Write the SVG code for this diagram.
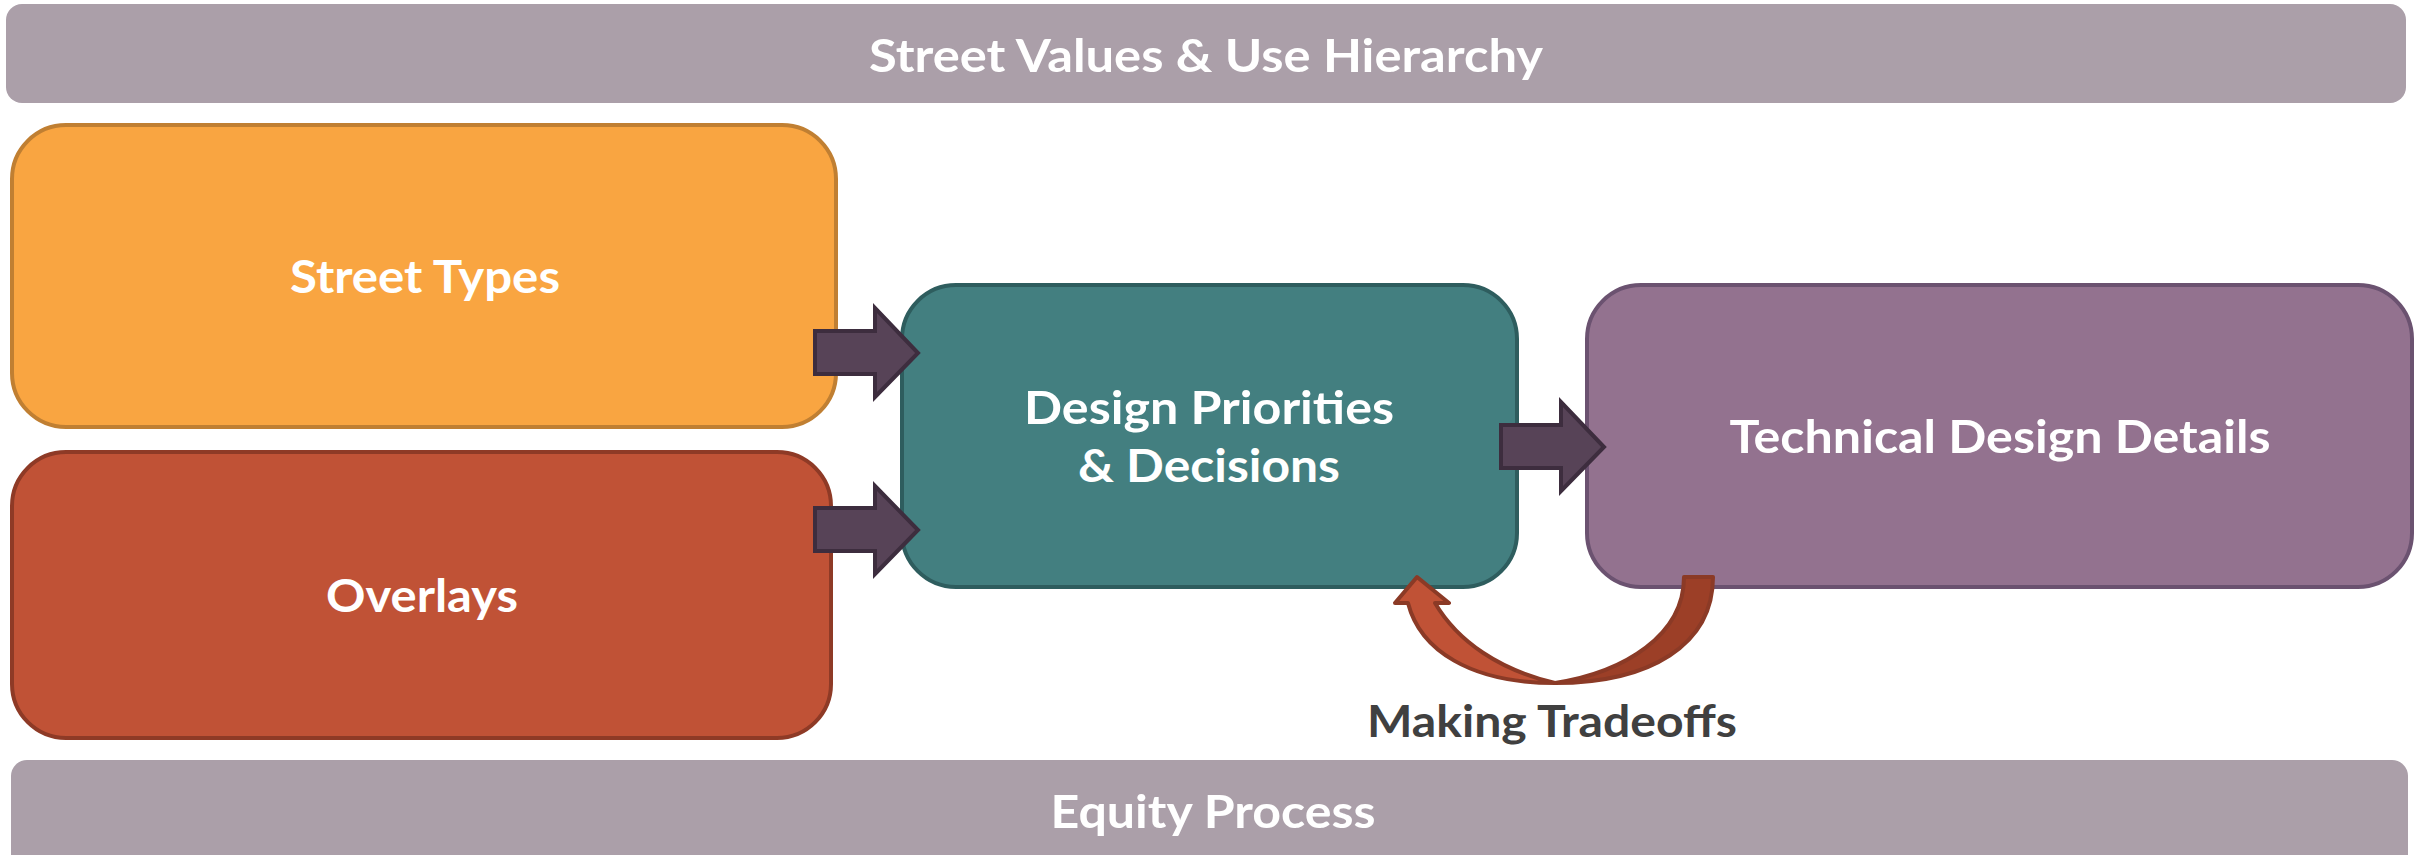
<svg xmlns="http://www.w3.org/2000/svg" width="2425" height="855" viewBox="0 0 2425 855">
<style>
.lbl{font-family:Lato,"Open Sans","Liberation Sans",sans-serif;font-weight:bold;fill:#ffffff;text-anchor:middle}
.bar{fill:#ab9fa9}
.box{stroke-width:4}
.blk{fill:#574357;stroke:#3d2d3e;stroke-width:4;stroke-linejoin:miter}
</style>
<rect width="2425" height="855" fill="#ffffff"/>
<g id="top-bar">
<rect class="bar" x="6" y="4" width="2400" height="99" rx="16"/>
<text class="lbl" x="1206" y="72" font-size="46" textLength="674" lengthAdjust="spacingAndGlyphs">Street Values &amp; Use Hierarchy</text>
</g>
<g id="street-types">
<rect class="box" x="12" y="125" width="824" height="302" rx="54" fill="#f9a541" stroke="#c07f32"/>
<text class="lbl" x="425" y="293" font-size="46" textLength="270" lengthAdjust="spacingAndGlyphs">Street Types</text>
</g>
<g id="overlays">
<rect class="box" x="12" y="452" width="819" height="286" rx="54" fill="#c05236" stroke="#8e3a26"/>
<text class="lbl" x="422" y="612" font-size="46" textLength="192" lengthAdjust="spacingAndGlyphs">Overlays</text>
</g>
<g id="design-priorities">
<rect class="box" x="902" y="285" width="615" height="302" rx="54" fill="#437f80" stroke="#2e5d5e"/>
<text class="lbl" x="1209" y="424" font-size="46" textLength="370" lengthAdjust="spacingAndGlyphs">Design Priorities</text>
<text class="lbl" x="1209" y="482" font-size="46" textLength="262" lengthAdjust="spacingAndGlyphs">&amp; Decisions</text>
</g>
<g id="technical-design">
<rect class="box" x="1587" y="285" width="825" height="302" rx="54" fill="#93728f" stroke="#6b5270"/>
<text class="lbl" x="2000" y="453" font-size="46" textLength="541" lengthAdjust="spacingAndGlyphs">Technical Design Details</text>
</g>
<g id="bottom-bar">
<rect class="bar" x="11" y="760" width="2397" height="115" rx="16"/>
<text class="lbl" x="1213" y="828" font-size="46" textLength="325" lengthAdjust="spacingAndGlyphs">Equity Process</text>
</g>
<g id="connectors">
<path class="blk" d="M815,331 L875,331 L875,308 L918,353 L875,397 L875,374 L815,374 Z"/>
<path class="blk" d="M815,508 L875,508 L875,486 L918,530 L875,574 L875,551 L815,551 Z"/>
<path class="blk" d="M1501,425 L1561,425 L1561,402 L1604,447 L1561,491 L1561,468 L1501,468 Z"/>
<g id="tradeoff-arrow" stroke="#8b3a26" stroke-width="4" stroke-linejoin="round">
<path fill="#9c3f27" d="M1684,577 L1713,577 C1713,645 1650,683 1555,683 C1625,672 1684,635 1684,577 Z"/>
<path fill="#c05236" d="M1555,683 C1470,683 1420,650 1408,603 L1395,603 L1417,577 L1449,603 L1435,603 C1458,642 1500,670 1555,683 Z"/>
</g>
<text x="1552" y="737" font-family="Lato,'Open Sans','Liberation Sans',sans-serif" font-weight="bold" font-size="44" fill="#404040" text-anchor="middle" textLength="370" lengthAdjust="spacingAndGlyphs">Making Tradeoffs</text>
</g>
</svg>
